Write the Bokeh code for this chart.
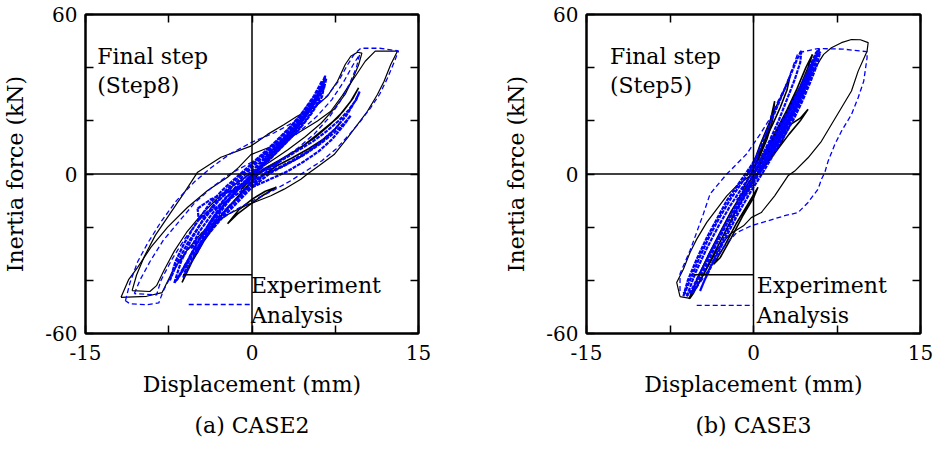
from bokeh.plotting import figure
from bokeh.models import Span, Label, FixedTicker, LinearAxis, Range1d, Title
from bokeh.layouts import row
from bokeh.embed import file_html
from bokeh.resources import INLINE

FONT = "DejaVu Serif"

# ---------------- axis ticks ----------------
x_ticks = [-15, -7.5, 0, 7.5, 15]
x_tick_text = {-15: "-15", -7.5: "", 7.5: ""}
y_ticks = [-60, -40, -20, 0, 20, 40, 60]
y_tick_text = {-60: "-60", -40: "", -20: "", 20: "", 40: ""}

# ---------------- CASE2 : Experiment (black) ----------------
c2_exp_final = [(-11.8, -46.4), (-11.1, -39.6), (-10.3, -35.1), (-9.1, -27.5), (-7.6, -20.0), (-5.8, -12.5),
                (-4.0, -6.2), (-2.2, -1.2), (-1.2, 2.5), (-0.1, 7.3), (1.4, 9.8), (2.9, 12.3), (4.4, 16.1),
                (5.9, 19.9), (7.1, 23.6), (8.1, 29.3), (8.9, 34.3), (9.5, 38.0), (10.2, 42.4), (11.1, 46.2),
                (13.1, 46.2), (12.5, 41.2), (11.9, 34.9), (11.3, 29.9), (10.4, 23.6), (9.5, 18.6), (8.6, 13.6),
                (7.4, 7.3), (6.0, 3.0), (5.0, 0.0), (4.4, -2.0), (2.9, -5.7), (1.7, -8.2), (-0.6, -11.9),
                (-2.4, -15.7), (-4.5, -22.0), (-6.0, -29.5), (-7.2, -37.0), (-8.1, -44.6), (-9.5, -46.0),
                (-11.8, -46.4)]
c2_exp_prev = [(-10.8, -43.9), (-10.4, -38.0), (-9.7, -31.0), (-8.7, -23.0), (-7.4, -15.0), (-6.1, -7.0),
               (-4.9, 0.7), (-2.8, 6.3), (-0.1, 10.5), (1.4, 14.9), (2.9, 18.6), (4.1, 21.8), (5.6, 24.9),
               (6.8, 29.3), (7.7, 34.9), (8.4, 41.2), (8.9, 44.3), (9.5, 45.8), (9.9, 45.5), (9.6, 41.0),
               (9.1, 36.0), (8.4, 30.0), (7.4, 24.5), (6.2, 19.0), (4.8, 14.0), (3.2, 9.0), (1.6, 4.5),
               (0.0, 0.5), (-1.6, -4.0), (-3.2, -9.5), (-4.6, -15.5), (-5.9, -22.0), (-7.0, -29.0),
               (-7.9, -36.0), (-8.6, -42.0), (-9.2, -44.2), (-10.8, -43.9)]
c2_exp_band1 = [(-1.0, -6.0), (0.5, 1.0), (2.0, 7.5), (3.3, 13.5), (4.5, 19.5), (5.5, 25.5), (6.2, 31.0),
                (6.6, 36.8), (6.3, 33.0), (5.6, 27.5), (4.7, 22.0), (3.6, 16.0), (2.3, 10.0), (1.0, 4.0),
                (-0.4, -2.0), (-1.0, -6.0)]
c2_exp_band2 = [(0.2, -1.0), (1.4, 2.3), (2.9, 6.1), (4.4, 9.9), (5.9, 14.9), (7.7, 21.1), (8.9, 27.4),
                (9.6, 32.4), (9.1, 28.5), (8.2, 23.5), (7.0, 18.5), (5.6, 13.5), (4.0, 9.0), (2.4, 5.0),
                (0.9, 1.5), (0.2, -1.0)]
c2_exp_band3 = [(1.0, -0.5), (2.6, 2.5), (4.2, 6.0), (5.6, 10.0), (6.8, 14.0), (7.6, 17.5), (8.0, 19.5),
                (7.4, 16.5), (6.4, 13.0), (5.1, 9.5), (3.6, 6.0), (2.2, 3.0), (1.0, -0.5)]
c2_exp_band4 = [(-6.3, -40.8), (-5.4, -33.0), (-4.3, -25.0), (-3.0, -17.0), (-1.6, -10.0), (-0.2, -3.5),
                (0.8, 1.0), (0.2, -2.0), (-1.0, -7.5), (-2.4, -13.5), (-3.6, -20.0), (-4.8, -28.0),
                (-5.7, -35.0), (-6.3, -40.8)]
c2_exp_band5 = [(-2.2, -18.7), (-1.3, -15.0), (-0.2, -11.5), (1.0, -8.0), (2.2, -5.0), (1.2, -6.5),
                (0.0, -9.5), (-1.2, -13.5), (-2.2, -18.7)]

# ---------------- CASE2 : Analysis (blue dashed) ----------------
c2_ana_final = [(-11.4, -47.7), (-11.0, -41.0), (-10.3, -33.0), (-9.4, -26.0), (-8.2, -18.0), (-6.8, -10.0),
                (-5.2, -3.0), (-3.8, 2.0), (-2.0, 7.5), (0.0, 12.0), (2.0, 15.5), (4.0, 20.0), (5.5, 24.5),
                (6.8, 29.5), (7.8, 35.0), (8.6, 41.0), (9.2, 45.0), (9.8, 47.3), (11.5, 47.3), (13.2, 46.3),
                (12.8, 42.0), (12.2, 36.0), (11.5, 30.0), (10.7, 25.0), (9.8, 20.0), (8.8, 15.0), (7.6, 9.5),
                (6.3, 5.0), (5.0, 1.5), (3.5, -2.5), (2.0, -6.0), (0.3, -9.5), (-1.5, -13.5), (-3.5, -19.0),
                (-5.5, -27.0), (-7.0, -36.0), (-8.0, -44.0), (-8.4, -48.5), (-9.5, -49.2), (-11.0, -48.8),
                (-11.4, -47.7)]
c2_ana_prev = [(-10.6, -45.0), (-10.1, -40.0), (-9.2, -33.0), (-8.0, -25.0), (-6.6, -18.0), (-5.2, -11.0),
               (-3.6, -5.0), (-2.0, 0.0), (0.0, 4.5), (2.0, 9.5), (4.0, 15.0), (5.8, 21.5), (7.2, 28.0),
               (8.3, 35.0), (9.1, 41.0), (9.7, 45.0), (9.4, 40.0), (8.8, 34.0), (7.9, 27.0), (6.9, 21.0),
               (5.6, 15.0), (4.2, 10.0), (2.5, 5.0), (0.8, 0.5), (-1.0, -4.0), (-2.8, -9.0), (-4.5, -16.0),
               (-6.0, -24.0), (-7.2, -32.0), (-8.2, -40.0), (-8.6, -45.5), (-10.6, -45.0)]
c2_ana_band1 = [(-7.0, -41.0), (-6.4, -33.0), (-5.5, -25.0), (-4.4, -17.0), (-3.0, -9.0), (-1.4, -2.0),
                (0.2, 4.0), (1.7, 10.0), (3.0, 15.5), (4.2, 21.0), (5.3, 27.0), (6.1, 32.0), (6.6, 37.0),
                (6.4, 33.0), (5.8, 28.0), (4.9, 22.0), (3.9, 16.5), (2.7, 11.0), (1.3, 5.0), (-0.2, -1.0),
                (-1.8, -8.0), (-3.2, -15.0), (-4.5, -23.0), (-5.6, -31.0), (-6.5, -38.0), (-7.0, -41.0)]
c2_ana_band2 = [(-6.2, -39.0), (-5.6, -31.0), (-4.7, -24.0), (-3.6, -17.0), (-2.2, -10.0), (-0.8, -4.0),
                (0.8, 2.0), (2.2, 8.0), (3.6, 14.0), (4.8, 20.0), (5.8, 26.0), (6.5, 33.0), (6.3, 29.0),
                (5.4, 23.0), (4.3, 17.0), (3.1, 12.0), (1.8, 6.5), (0.3, 1.0), (-1.2, -5.0), (-2.6, -12.0),
                (-3.8, -19.0), (-4.8, -27.0), (-5.6, -34.0), (-6.2, -39.0)]
c2_ana_band3 = [(-5.0, -30.0), (-4.0, -22.0), (-2.8, -14.0), (-1.5, -7.0), (0.0, 0.0), (1.4, 6.0), (2.7, 12.0),
                (3.9, 18.0), (4.9, 24.0), (5.4, 27.0), (5.0, 23.0), (4.0, 18.0), (2.8, 13.0), (1.6, 8.0),
                (0.2, 2.0), (-1.3, -4.0), (-2.7, -11.0), (-3.9, -19.0), (-5.0, -30.0)]
c2_ana_band4 = [(-5.5, -28.0), (-4.8, -22.0), (-3.6, -15.0), (-2.4, -9.0), (-1.0, -4.0), (0.5, 0.0), (1.8, 3.0),
                (2.6, 5.0), (1.5, 1.5), (0.2, -3.0), (-1.0, -8.0), (-2.0, -12.0), (-3.2, -17.0), (-4.2, -22.0),
                (-5.5, -28.0)]
c2_ana_band5 = [(-0.5, -3.0), (0.8, -1.0), (2.2, 2.0), (3.6, 5.0), (5.0, 8.5), (6.3, 12.5), (7.5, 17.0),
                (8.5, 22.0), (9.3, 27.5), (9.7, 31.0), (9.4, 28.0), (8.7, 24.0), (7.8, 20.0), (6.7, 16.0),
                (5.4, 12.0), (4.0, 8.5), (2.6, 5.0), (1.2, 2.0), (-0.5, -3.0)]
c2_ana_band6 = [(0.0, -5.0), (1.6, -2.0), (3.2, 1.0), (4.6, 4.5), (6.0, 8.5), (7.2, 13.0), (8.2, 18.0),
                (8.9, 22.0), (8.4, 19.5), (7.4, 15.5), (6.2, 11.5), (4.8, 7.5), (3.3, 4.0), (1.7, 0.5),
                (0.0, -5.0)]
c2_ana_band7 = [(1.0, 5.0), (2.2, 10.5), (3.4, 16.0), (4.4, 21.0), (5.4, 26.5), (6.2, 32.0), (6.7, 36.0),
                (6.5, 32.5), (5.9, 28.0), (5.0, 23.0), (4.0, 18.0), (2.9, 12.5), (1.7, 7.5), (1.0, 5.0)]
c2_ana_band8 = [(-6.8, -40.0), (-6.0, -34.0), (-5.0, -28.0), (-3.9, -22.0), (-2.6, -15.0), (-1.2, -9.0),
                (0.3, -3.0), (1.0, -0.5), (0.0, -5.0), (-1.5, -11.5), (-2.9, -17.5), (-4.2, -24.0),
                (-5.4, -31.0), (-6.4, -37.5), (-6.8, -40.0)]
c2_ana_band9 = [(-7.4, -40.0), (-6.9, -33.0), (-6.1, -26.0), (-5.1, -19.0), (-3.8, -11.0), (-2.4, -5.0),
                (-0.8, 1.0), (0.8, 7.0), (2.2, 12.5), (3.5, 18.0), (4.6, 23.5), (5.6, 29.5), (6.3, 35.0),
                (6.0, 30.0), (5.1, 24.5), (4.0, 19.0), (2.8, 13.5), (1.4, 8.0), (-0.1, 2.0), (-1.6, -4.0),
                (-3.1, -10.5), (-4.5, -18.0), (-5.8, -26.0), (-6.8, -34.0), (-7.4, -40.0)]
c2_ana_band10 = [(-4.9, -13.0), (-3.7, -9.5), (-2.3, -7.0), (-0.9, -4.5), (0.4, -1.5), (-0.8, -6.0),
                 (-2.2, -10.0), (-3.6, -13.5), (-4.8, -17.0), (-4.9, -13.0)]

# ---------------- CASE3 : Experiment (black) ----------------
c3_exp_final = [(-6.6, -46.1), (-6.9, -40.8), (-6.3, -35.8), (-5.7, -29.5), (-5.1, -24.5), (-4.2, -18.2),
                (-3.3, -13.2), (-2.4, -8.2), (-1.5, -4.4), (-0.3, -0.7), (0.6, 4.0), (1.6, 10.0), (2.6, 17.0),
                (3.6, 24.0), (4.5, 31.0), (5.3, 38.0), (6.0, 43.0), (6.3, 45.0), (7.0, 47.5), (7.9, 49.4),
                (8.8, 50.6), (9.6, 50.5), (10.3, 49.4), (10.2, 46.2), (9.4, 38.7), (8.8, 31.2), (7.9, 24.9),
                (7.0, 18.6), (6.1, 12.3), (4.9, 6.1), (3.7, 1.1), (3.1, -0.7), (1.9, -8.2), (0.7, -14.5),
                (-0.2, -16.4), (-0.9, -19.5), (-2.1, -22.6), (-3.2, -28.0), (-4.1, -35.0), (-4.9, -41.0),
                (-5.4, -45.0), (-5.7, -46.8), (-6.6, -46.1)]
c3_exp_band1 = [(-5.8, -47.0), (-5.0, -39.0), (-4.0, -30.0), (-3.0, -22.0), (-2.0, -14.0), (-0.9, -6.5),
                (0.2, 1.0), (1.2, 8.5), (2.2, 16.0), (3.1, 23.0), (4.0, 30.0), (4.8, 37.0), (5.4, 43.0),
                (5.0, 37.0), (4.3, 30.5), (3.5, 23.5), (2.6, 16.5), (1.6, 9.0), (0.6, 2.0), (-0.5, -6.0),
                (-1.6, -14.0), (-2.7, -23.0), (-3.8, -32.0), (-4.9, -41.0), (-5.8, -47.0)]
c3_exp_band2 = [(-1.0, -6.0), (0.0, 2.0), (0.8, 10.0), (1.4, 18.0), (1.9, 27.4), (1.7, 20.0), (1.2, 13.0),
                (0.5, 6.0), (-0.3, -0.5), (-1.0, -6.0)]
c3_exp_band3 = [(0.5, 0.0), (1.5, 6.0), (2.5, 12.0), (3.3, 18.6), (4.2, 21.0), (4.9, 24.3), (4.2, 20.0),
                (3.2, 15.0), (2.2, 9.5), (1.2, 4.0), (0.5, 0.0)]
c3_exp_band4 = [(-3.6, -34.0), (-2.6, -27.0), (-1.6, -19.0), (-0.6, -12.0), (0.4, -5.0), (0.0, -9.0),
                (-1.0, -16.0), (-2.0, -24.0), (-3.0, -31.5), (-3.6, -34.0)]
c3_exp_band5 = [(0.0, 0.0), (1.0, 8.0), (2.0, 16.0), (3.0, 24.0), (3.9, 32.0), (4.7, 40.0), (5.3, 45.0),
                (4.9, 40.0), (4.2, 33.0), (3.3, 25.5), (2.4, 18.0), (1.4, 10.0), (0.5, 3.0), (0.0, 0.0)]
c3_exp_band6 = [(0.0, 4.0), (0.6, 11.0), (1.3, 18.0), (2.0, 25.0), (2.7, 31.0), (3.3, 37.0), (3.0, 31.5),
                (2.4, 25.0), (1.7, 18.5), (0.9, 11.5), (0.0, 4.0)]

# ---------------- CASE3 : Analysis (blue dashed) ----------------
c3_ana_final = [(-6.6, -44.0), (-6.6, -37.5), (-5.7, -28.8), (-4.5, -15.0), (-3.9, -7.5), (-2.4, 0.0),
                (-0.6, 7.6), (0.6, 15.0), (1.5, 21.0), (2.2, 27.4), (3.0, 34.0), (3.5, 40.0), (4.0, 45.6),
                (5.8, 47.2), (8.0, 47.0), (10.2, 46.0), (10.2, 43.7), (9.9, 34.9), (9.4, 28.7), (8.8, 22.4),
                (7.9, 16.1), (7.3, 11.1), (6.7, 4.8), (6.4, 0.5), (6.1, -2.0), (5.8, -5.7), (4.9, -10.7),
                (4.0, -14.5), (2.8, -15.7), (1.3, -17.6), (-0.2, -19.5), (-1.5, -22.0), (-2.6, -27.0),
                (-3.6, -33.0), (-4.5, -39.0), (-5.2, -43.5), (-5.8, -45.5), (-6.6, -44.0)]
c3_ana_band1 = [(-6.0, -46.0), (-5.2, -37.0), (-4.2, -28.0), (-3.2, -20.0), (-2.1, -12.0), (-1.0, -5.0),
                (0.0, 1.0), (1.0, 8.0), (2.0, 15.5), (3.0, 23.0), (4.0, 31.0), (4.9, 39.0), (5.6, 45.5),
                (5.9, 47.0), (5.6, 42.0), (5.0, 35.0), (4.3, 28.0), (3.4, 21.0), (2.5, 14.0), (1.5, 7.0),
                (0.5, 1.0), (-0.5, -5.0), (-1.6, -12.0), (-2.7, -20.0), (-3.8, -29.0), (-4.9, -38.0),
                (-5.6, -44.0), (-6.0, -46.0)]
c3_ana_band2 = [(-5.5, -45.0), (-4.8, -38.0), (-3.8, -29.0), (-2.7, -21.0), (-1.6, -13.0), (-0.5, -6.0),
                (0.5, 1.0), (1.5, 8.5), (2.5, 16.0), (3.5, 24.0), (4.4, 32.0), (5.0, 38.0), (5.4, 43.0),
                (5.2, 38.5), (4.6, 31.5), (3.8, 24.5), (2.9, 17.0), (1.9, 9.5), (0.9, 3.0), (-0.1, -3.0),
                (-1.2, -10.0), (-2.3, -18.0), (-3.4, -27.0), (-4.4, -36.0), (-5.1, -42.0), (-5.5, -45.0)]
c3_ana_band3 = [(-4.8, -44.0), (-4.0, -36.0), (-3.0, -27.0), (-2.0, -18.0), (-1.0, -10.0), (0.2, -2.0),
                (1.3, 5.5), (2.3, 13.0), (3.3, 21.0), (4.2, 29.0), (4.8, 35.0), (4.5, 30.0), (3.8, 23.5),
                (2.9, 16.0), (1.9, 8.0), (0.9, 1.0), (-0.3, -7.0), (-1.4, -15.0), (-2.5, -24.0),
                (-3.6, -33.0), (-4.4, -40.0), (-4.8, -44.0)]
c3_ana_band4 = [(-6.3, -46.0), (-5.9, -40.0), (-5.1, -32.0), (-4.2, -24.0), (-3.3, -17.0), (-2.4, -10.0),
                (-1.4, -4.0), (-0.4, 2.0), (0.4, 7.0), (-0.1, 2.5), (-1.0, -3.0), (-2.0, -9.0), (-3.0, -16.0),
                (-3.9, -23.0), (-4.8, -31.0), (-5.5, -38.0), (-6.0, -43.0), (-6.3, -46.0)]
c3_ana_band5 = [(0.5, 2.0), (1.6, 10.0), (2.6, 18.0), (3.6, 26.0), (4.5, 34.0), (5.3, 41.0), (5.8, 46.5),
                (5.5, 41.0), (4.8, 34.0), (4.0, 27.0), (3.1, 19.0), (2.1, 11.0), (1.0, 4.0), (0.5, 2.0)]
c3_ana_band6 = [(-1.5, -10.0), (-0.4, -3.0), (0.6, 4.0), (1.7, 12.0), (2.8, 20.0), (3.8, 28.0), (4.3, 32.0),
                (4.0, 27.5), (3.2, 21.0), (2.2, 13.5), (1.2, 6.5), (0.2, -0.5), (-0.8, -6.5), (-1.5, -10.0)]
c3_ana_band7 = [(-0.5, 0.0), (0.3, 7.0), (1.1, 15.0), (1.9, 23.0), (2.6, 30.0), (3.3, 37.0), (3.9, 43.0),
                (4.3, 46.5), (4.2, 42.0), (3.7, 35.5), (3.0, 28.0), (2.3, 20.5), (1.5, 13.0), (0.6, 5.5),
                (-0.5, 0.0)]
c3_ana_band8 = [(1.5, 10.0), (2.4, 17.0), (3.4, 25.0), (4.2, 32.0), (5.0, 39.0), (5.6, 44.0), (6.0, 46.0),
                (5.7, 41.0), (5.1, 34.5), (4.4, 27.5), (3.6, 20.5), (2.6, 13.0), (1.5, 10.0)]

# ---------------- legend samples ----------------
c2_leg_exp = [(-6.2, -37.9), (0.0, -37.9)]
c2_leg_ana = [(-5.7, -49.1), (0.0, -49.1)]
c3_leg_exp = [(-5.4, -37.9), (0.0, -37.9)]
c3_leg_ana = [(-5.1, -49.4), (0.0, -49.4)]

labels_text = {
    "xlabel": "Displacement (mm)",
    "ylabel": "Inertia force (kN)",
    "exp": "Experiment",
    "ana": "Analysis",
}

BLUE = "#0000ff"


def unzip(loops):
    xs = [[pt[0] for pt in lp] for lp in loops]
    ys = [[pt[1] for pt in lp] for lp in loops]
    return xs, ys


def base_axis_style(ax):
    ax.major_tick_in = 8
    ax.major_tick_out = 0
    ax.minor_tick_line_color = None
    ax.axis_line_width = 2
    ax.axis_line_color = "black"
    ax.major_tick_line_color = "black"
    ax.major_tick_line_width = 1.5


def make_panel(width, b_left, b_right, exp_loops, ana_loops, exp_band, ana_band,
               leg_exp, leg_ana, step_label, step_x, leg_text_x, caption, cap_offset):
    p = figure(width=width, height=450, x_range=Range1d(-15, 15), y_range=Range1d(-60, 60),
               output_backend="svg", toolbar_location=None,
               min_border_left=b_left, min_border_right=b_right,
               min_border_top=14, min_border_bottom=117)
    p.background_fill_color = "white"
    p.border_fill_color = "white"
    p.outline_line_color = "black"
    p.outline_line_width = 2
    p.grid.visible = False

    xa = p.xaxis[0]
    ya = p.yaxis[0]
    xa.ticker = FixedTicker(ticks=x_ticks, minor_ticks=[])
    ya.ticker = FixedTicker(ticks=y_ticks, minor_ticks=[])
    for ax in (xa, ya):
        base_axis_style(ax)
        ax.major_label_text_font = FONT
        ax.major_label_text_color = "black"
        ax.major_label_text_font_size = "20px"
        ax.axis_label_text_font = FONT
        ax.axis_label_text_font_style = "normal"
        ax.axis_label_text_font_size = "22px"
        ax.axis_label_text_color = "black"
    xa.major_label_overrides = x_tick_text
    ya.major_label_overrides = y_tick_text
    xa.axis_label = labels_text["xlabel"]
    ya.axis_label = labels_text["ylabel"]
    xa.major_label_standoff = 11
    xa.axis_label_standoff = 9
    ya.major_label_standoff = 8
    ya.axis_label_standoff = 14

    for loc, ticks in (("above", x_ticks), ("right", y_ticks)):
        ax = LinearAxis(ticker=FixedTicker(ticks=ticks, minor_ticks=[]))
        base_axis_style(ax)
        ax.major_label_text_color = None
        ax.major_label_standoff = 0
        p.add_layout(ax, loc)

    cap = Title(text=caption, align="center", offset=cap_offset, text_font=FONT,
                text_font_size="22px", text_font_style="normal", text_color="black", standoff=22)
    p.add_layout(cap, "below")

    p.add_layout(Span(location=0, dimension="height", line_color="black", line_width=1.5))
    p.add_layout(Span(location=0, dimension="width", line_color="black", line_width=1.5))

    xs, ys = unzip(exp_loops)
    p.multi_line(xs, ys, line_color="black", line_width=1.2)
    xs, ys = unzip(exp_band)
    p.multi_line(xs, ys, line_color="black", line_width=1.6)
    xs, ys = unzip(ana_band)
    p.multi_line(xs, ys, line_color=BLUE, line_width=2.2, line_dash="4 1")
    xs, ys = unzip(ana_loops)
    p.multi_line(xs, ys, line_color=BLUE, line_width=1.3, line_dash="5 3")

    xs, ys = unzip([leg_exp])
    p.line(xs[0], ys[0], line_color="black", line_width=1.3)
    xs, ys = unzip([leg_ana])
    p.line(xs[0], ys[0], line_color=BLUE, line_width=1.3, line_dash="5 3")

    def lab(x, y, text, size="22px", align="left"):
        p.add_layout(Label(x=x, y=y, text=text, text_font=FONT, text_font_size=size,
                           text_font_style="normal",
                           text_color="black", text_align=align, text_baseline="alphabetic"))

    lab(step_x, 44.1, "Final step")
    lab(step_x, 33.4, step_label)
    lab(leg_text_x, -41.9, labels_text["exp"])
    lab(leg_text_x, -53.1, labels_text["ana"])
    return p


p1 = make_panel(466, 85, 48,
                [c2_exp_final, c2_exp_prev],
                [c2_ana_final, c2_ana_prev],
                [c2_exp_band1, c2_exp_band2, c2_exp_band3, c2_exp_band4, c2_exp_band5],
                [c2_ana_band1, c2_ana_band2, c2_ana_band3, c2_ana_band4, c2_ana_band5, c2_ana_band6,
                 c2_ana_band7, c2_ana_band8, c2_ana_band9, c2_ana_band10],
                c2_leg_exp, c2_leg_ana, "(Step8)", -13.95, -0.1, "(a) CASE2", -12)
p2 = make_panel(467, 120, 13,
                [c3_exp_final],
                [c3_ana_final],
                [c3_exp_band1, c3_exp_band2, c3_exp_band3, c3_exp_band4, c3_exp_band5, c3_exp_band6],
                [c3_ana_band1, c3_ana_band2, c3_ana_band3, c3_ana_band4, c3_ana_band5, c3_ana_band6,
                 c3_ana_band7, c3_ana_band8],
                c3_leg_exp, c3_leg_ana, "(Step5)", -12.9, 0.3, "(b) CASE3", 1)

layout = row(p1, p2)
open("out.html", "w").write(file_html(layout, INLINE))
